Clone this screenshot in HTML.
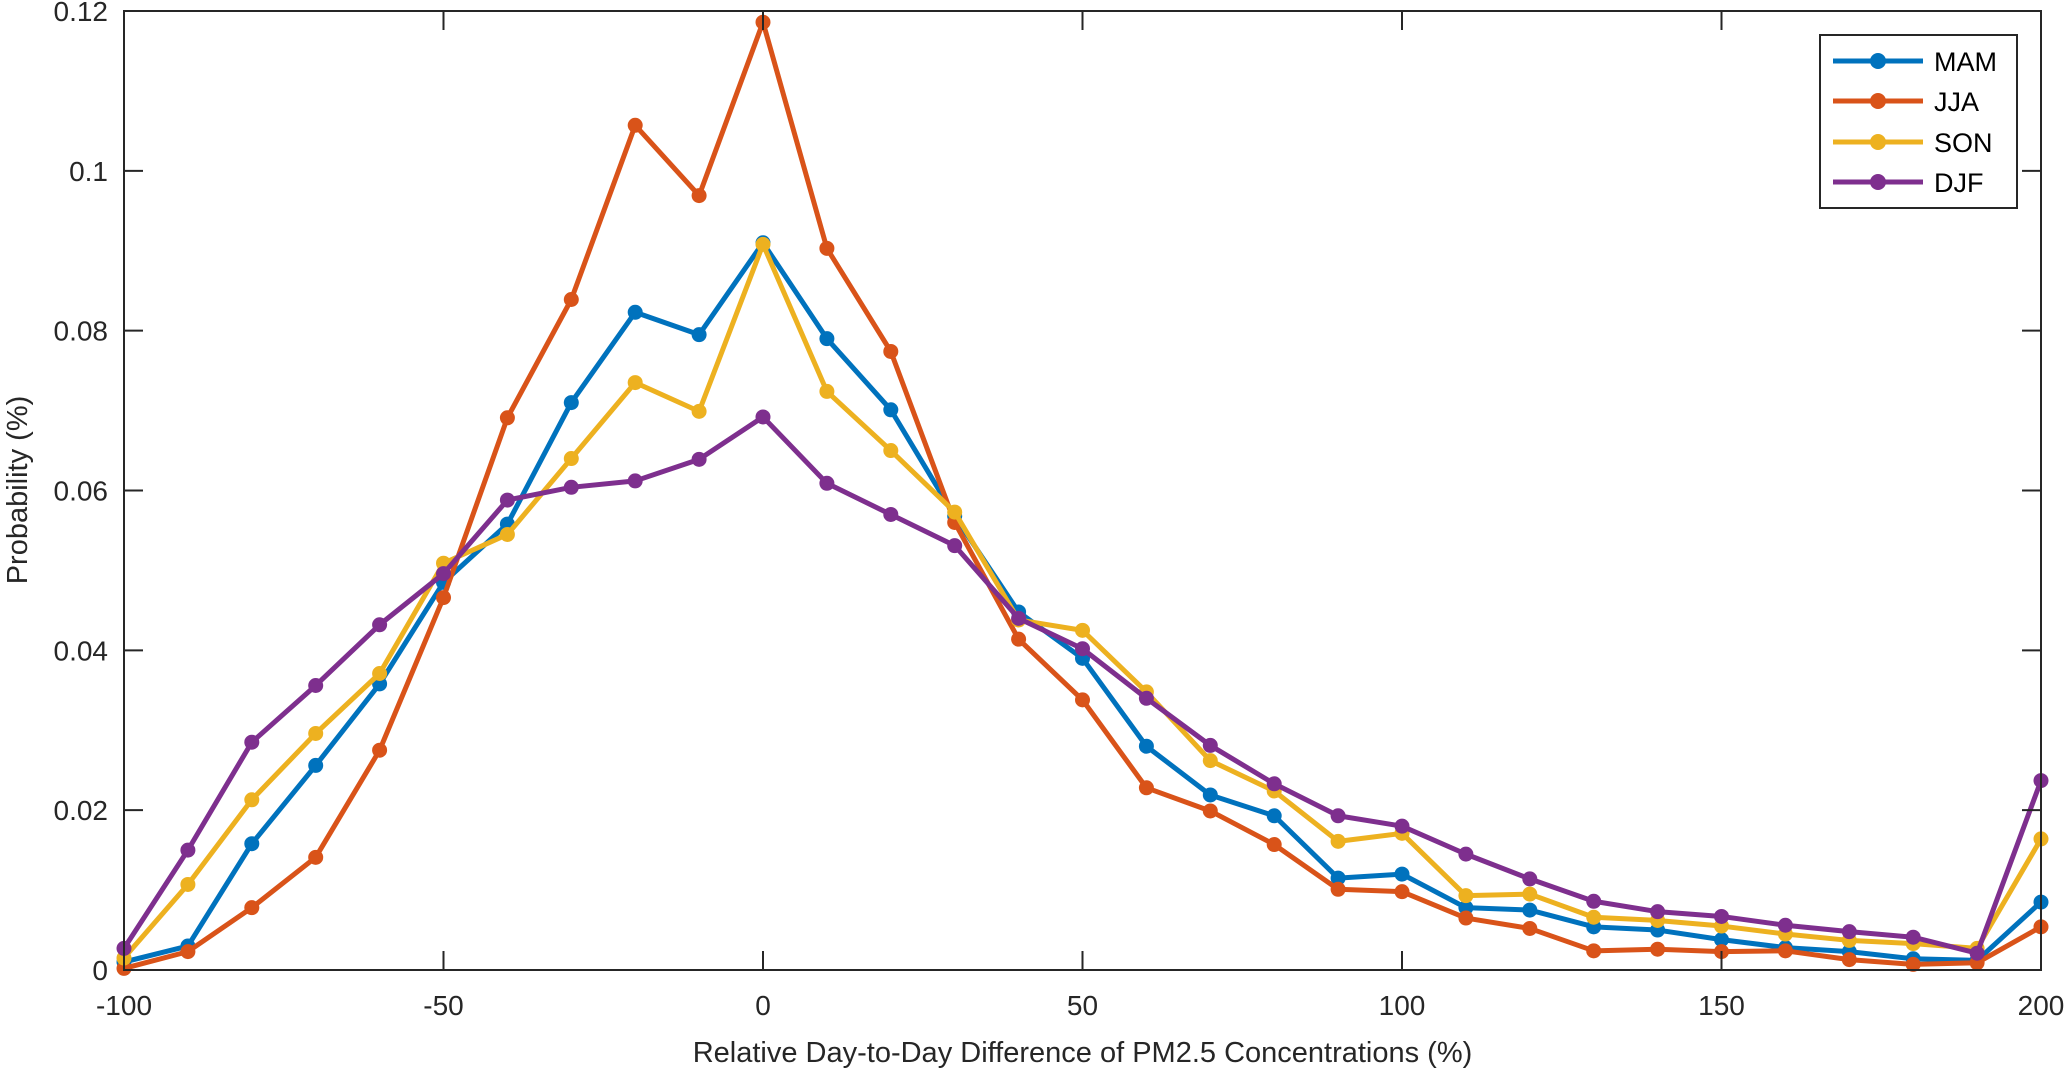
<!DOCTYPE html>
<html><head><meta charset="utf-8"><style>
html,body{margin:0;padding:0;background:#fff;}
svg{display:block;font-family:"Liberation Sans",Arial,sans-serif;}
</style></head><body>
<svg id="chart" width="2067" height="1072" viewBox="0 0 2067 1072"></svg>
<script>
const xCats=[-100,-90,-80,-70,-60,-50,-40,-30,-20,-10,0,10,20,30,40,50,60,70,80,90,100,110,120,130,140,150,160,170,180,190,200];
const mam=[0.001,0.003,0.0158,0.0256,0.0358,0.0485,0.0558,0.071,0.0823,0.0795,0.091,0.079,0.0701,0.0568,0.0448,0.039,0.028,0.0219,0.0193,0.0115,0.012,0.0078,0.0075,0.0054,0.005,0.0038,0.0028,0.0023,0.0014,0.0012,0.0085];
const jja=[0.0002,0.0023,0.0078,0.0141,0.0275,0.0466,0.0691,0.0839,0.1057,0.0969,0.1186,0.0903,0.0774,0.056,0.0414,0.0338,0.0228,0.0199,0.0157,0.0101,0.0098,0.0065,0.0052,0.0024,0.0026,0.0023,0.0024,0.0013,0.0007,0.0009,0.0054];
const son=[0.0015,0.0107,0.0213,0.0296,0.0371,0.0509,0.0545,0.064,0.0735,0.0699,0.0908,0.0724,0.065,0.0573,0.0438,0.0425,0.0348,0.0262,0.0224,0.0161,0.0171,0.0093,0.0095,0.0066,0.0062,0.0055,0.0045,0.0037,0.0033,0.0027,0.0164];
const djf=[0.0027,0.015,0.0285,0.0356,0.0432,0.0496,0.0588,0.0604,0.0612,0.0639,0.0692,0.0609,0.057,0.0531,0.044,0.0402,0.034,0.0281,0.0233,0.0193,0.018,0.0145,0.0114,0.0086,0.0073,0.0067,0.0056,0.0048,0.0041,0.0021,0.0237];
const seriesNames=["MAM","JJA","SON","DJF"];
const xTicks=[-100,-50,0,50,100,150,200];
const xTickLabels=["-100","-50","0","50","100","150","200"];
const yTicks=[0,0.02,0.04,0.06,0.08,0.1,0.12];
const yTickLabels=["0","0.02","0.04","0.06","0.08","0.1","0.12"];

const L=124,R=2041,T=11,B=970;
const xs=v=>L+(v+100)/300*(R-L);
const ys=v=>B-v/0.12*(B-T);
const svg=document.getElementById('chart');
const NS='http://www.w3.org/2000/svg';
function mk(tag,attrs,parent){const e=document.createElementNS(NS,tag);for(const k in attrs)e.setAttribute(k,attrs[k]);(parent||svg).appendChild(e);return e;}

// series
const colors=["#0072BD","#D95319","#EDB120","#7E2F8E"];
const data=[mam,jja,son,djf];
data.forEach((arr,si)=>{
  const g=mk('g',{});
  
  
  const pts=arr.map((v,i)=>xs(xCats[i])+','+ys(v)).join(' ');
  const pl=mk('polyline',{points:pts,fill:'none',stroke:colors[si],'stroke-width':5,'stroke-linejoin':'round'},g);
  
  
  arr.forEach((v,i)=>{
    const c=mk('circle',{cx:xs(xCats[i]),cy:ys(v),r:7.5,fill:colors[si]},g);
    
    
  });
});

// axes box
const box=mk('rect',{x:L,y:T,width:R-L,height:B-T,fill:'none',stroke:'#262626','stroke-width':2});



xTicks.forEach((v,i)=>{
  const x=xs(v);
  mk('line',{x1:x,y1:B,x2:x,y2:B-19,stroke:'#262626','stroke-width':2});
  mk('line',{x1:x,y1:T,x2:x,y2:T+19,stroke:'#262626','stroke-width':2});
  const t=mk('text',{x:x,y:1015,'text-anchor':'middle','font-size':28,fill:'#262626'});
  t.textContent=xTickLabels[i];
  
  
});
yTicks.forEach((v,i)=>{
  const y=ys(v);
  mk('line',{x1:L,y1:y,x2:L+19,y2:y,stroke:'#262626','stroke-width':2});
  mk('line',{x1:R,y1:y,x2:R-19,y2:y,stroke:'#262626','stroke-width':2});
  const t=mk('text',{x:108,y:y+10,'text-anchor':'end','font-size':28,fill:'#262626'});
  t.textContent=yTickLabels[i];
  
  
});

const xt=mk('text',{x:(L+R)/2,y:1062,'text-anchor':'middle','font-size':29,fill:'#262626'});
xt.textContent='Relative Day-to-Day Difference of PM2.5 Concentrations (%)';


const yt=mk('text',{x:0,y:0,'text-anchor':'middle','font-size':29,fill:'#262626',transform:'translate(27,490) rotate(-90)'});
yt.textContent='Probability (%)';



// legend
const lg=mk('g',{});


mk('rect',{x:1820,y:35,width:197,height:173,fill:'#fff',stroke:'#262626','stroke-width':2},lg);
const ly=[61,101,142,182];
seriesNames.forEach((n,i)=>{
  const e=mk('g',{},lg);
  
  
  mk('line',{x1:1833,y1:ly[i],x2:1923,y2:ly[i],stroke:colors[i],'stroke-width':5},e);
  mk('circle',{cx:1878,cy:ly[i],r:8,fill:colors[i]},e);
  const t=mk('text',{x:1934,y:ly[i]+10,'font-size':27,fill:'#000'},e);
  t.textContent=n;
});
</script>
</body></html>
